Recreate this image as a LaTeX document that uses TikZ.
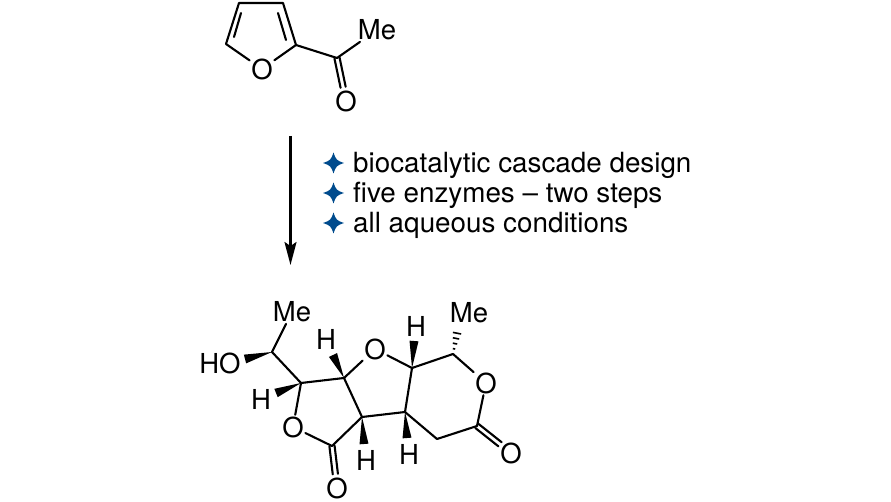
\documentclass[tikz,border=0pt]{standalone}
\usepackage{fontspec}
\setmainfont{TeX Gyre Heros}
\usetikzlibrary{arrows.meta,calc}
\definecolor{starblue}{HTML}{004B8D}
\tikzset{
	bond/.style={line width=2.1pt,line cap=round,line join=round},
	atom/.style={font=\fontsize{27.5}{27.5}\selectfont,inner sep=1.5pt,text=black},
	info/.style={font=\fontsize{27.8}{27.8}\selectfont,inner sep=0pt,anchor=base west},
}
\newcommand{\wedgebond}[2]{\fill (#1) -- ($(#2)!4.5pt!90:(#1)$) -- ($(#2)!4.5pt!-90:(#1)$) -- cycle;}
\newcommand{\doublebond}[2]{
	\draw[bond,shorten >=14pt] ($(#1)!2.6pt!90:(#2)$) -- ($(#2)!2.6pt!-90:(#1)$);
	\draw[bond,shorten >=14pt] ($(#1)!2.6pt!-90:(#2)$) -- ($(#2)!2.6pt!90:(#1)$);
}
\newcommand{\starmark}[1]{\fill[starblue] ($(#1)+(0,-10.5)$) .. controls ($(#1)+(2.8,-2.8)$) .. ($(#1)+(10.5,0)$) .. controls ($(#1)+(2.8,2.8)$) .. ($(#1)+(0,10.5)$) .. controls ($(#1)+(-2.8,2.8)$) .. ($(#1)+(-10.5,0)$) .. controls ($(#1)+(-2.8,-2.8)$) .. cycle;}
\begin{document}
\begin{tikzpicture}[x=1pt,y=-1pt]
	\useasboundingbox (0,0) rectangle (891,502);
	
	% furan
	\coordinate (f1) at (226,44);
	\coordinate (f2) at (239,3);
	\coordinate (f3) at (283,3);
	\coordinate (f4) at (296,45);
	\coordinate (co) at (337,58);
	\coordinate (in1) at (241,13);
	\coordinate (in2) at (234,37);
	\coordinate (in3) at (278,13);
	\coordinate (in4) at (286,40);
	\node[atom] (fo) at (262,69) {O};
	\node[atom] (me1) at (377,30) {Me};
	\node[atom] (o1) at (346,101) {O};
	
	\draw[bond] (fo) -- (f1) -- (f2) -- (f3) -- (f4) -- (fo);
	\draw[bond] (in1) -- (in2);
	\draw[bond] (in3) -- (in4);
	\draw[bond] (f4) -- (co) -- (me1);
	\doublebond{co}{o1}
	
	% arrow
	\coordinate (a1) at (290.5,136);
	\coordinate (a2) at (290.5,265);
	\draw[line width=2.1pt,-{Stealth[length=23pt,width=12pt,inset=4pt]}] (a1) -- (a2);
	
	% text
	\coordinate (s1) at (333.5,163);
	\coordinate (s2) at (333.5,193);
	\coordinate (s3) at (333.5,223);
	\starmark{s1}
	\starmark{s2}
	\starmark{s3}
	\node[info] (t1) at (353,173) {biocatalytic cascade design};
	\node[info] (t2) at (353,203) {five enzymes -- two steps};
	\node[info] (t3) at (353,233) {all aqueous conditions};
	
	% product
	\coordinate (c1) at (272,352);
	\coordinate (c2) at (301,383);
	\coordinate (c3) at (344,378);
	\coordinate (c4) at (362,417);
	\coordinate (c5) at (332,446);
	\coordinate (c6) at (412,368);
	\coordinate (c7) at (405,412);
	\coordinate (c8) at (453,354);
	\coordinate (c9) at (477,426);
	\coordinate (c10) at (437,439);
	\coordinate (w1) at (245,359);
	\coordinate (w2) at (276,393);
	\coordinate (w3) at (333,355);
	\coordinate (w4) at (364,444);
	\coordinate (w5) at (414,341);
	\coordinate (w6) at (407,438);
	\coordinate (w7) at (458,328);
	\node[atom] (me2) at (292,312) {Me};
	\node[atom] (ho) at (220,363) {HO};
	\node[atom] (h1) at (261,399) {H};
	\node[atom] (h2) at (326,339) {H};
	\node[atom] (h3) at (366,460) {H};
	\node[atom] (h4) at (416,326) {H};
	\node[atom] (h5) at (409,454) {H};
	\node[atom] (me3) at (469,313) {Me};
	\node[atom] (o2) at (293,427) {O};
	\node[atom] (o3) at (337,488) {O};
	\node[atom] (o4) at (375,349) {O};
	\node[atom] (o5) at (486,383) {O};
	\node[atom] (o6) at (511,453) {O};
	
	\draw[bond] (me2) -- (c1) -- (c2) -- (c3) -- (c4) -- (c5) -- (o2) -- (c2);
	\draw[bond] (c3) -- (o4) -- (c6) -- (c7) -- (c4);
	\draw[bond] (c6) -- (c8) -- (o5) -- (c9) -- (c10) -- (c7);
	\doublebond{c5}{o3}
	\doublebond{c9}{o6}
	
	\wedgebond{c1}{w1}
	\wedgebond{c2}{w2}
	\wedgebond{c3}{w3}
	\wedgebond{c4}{w4}
	\wedgebond{c6}{w5}
	\wedgebond{c7}{w6}
	
	% hashed bond
	\foreach \i/\wid in {.2/1.2,.4/2.2,.6/3.2,.8/4.2,1/5.2}
		\draw[line width=1.6pt] ($($(c8)!\i!(w7)$)!\wid pt!90:(w7)$) -- ($($(c8)!\i!(w7)$)!\wid pt!-90:(w7)$);
\end{tikzpicture}
\end{document}
